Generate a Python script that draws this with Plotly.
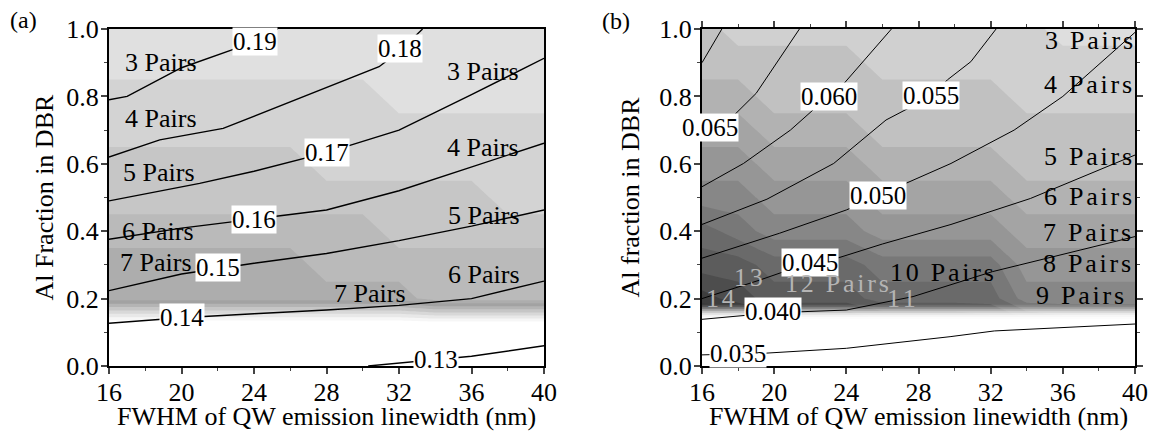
import plotly.graph_objects as go

FONT = "Liberation Serif, Times New Roman, Times, serif"
W, H = 1166, 438

# ---------------- data: pair-count grids (background) ----------------
GRID_X = [16, 18, 20, 22, 24, 26, 28, 30, 32, 34, 36, 38, 40]

A_GRID_Y = [0.0, 0.1, 0.2, 0.3, 0.4, 0.5, 0.6, 0.7, 0.8, 0.9, 1.0]
A_PAIRS = [
    [25, 25, 25, 25, 25, 25, 25, 25, 25, 25, 25, 25, 25],
    [17, 17, 17, 17, 17, 17, 17, 17, 17, 17, 17, 17, 17],
    [7, 7, 7, 7, 7, 7, 7, 7, 7, 6, 6, 6, 6],
    [7, 7, 7, 7, 7, 7, 6, 6, 6, 6, 6, 6, 6],
    [6, 6, 6, 6, 6, 6, 6, 6, 5, 5, 5, 5, 5],
    [5, 5, 5, 5, 5, 5, 5, 5, 5, 5, 5, 4, 4],
    [5, 5, 5, 5, 5, 5, 4, 4, 4, 4, 4, 4, 4],
    [4, 4, 4, 4, 4, 4, 4, 4, 4, 4, 4, 4, 4],
    [4, 4, 4, 4, 4, 4, 4, 4, 3, 3, 3, 3, 3],
    [3, 3, 3, 3, 3, 3, 3, 3, 3, 3, 3, 3, 3],
    [3, 3, 3, 3, 3, 3, 3, 3, 3, 3, 3, 3, 3],
]

B_GRID_Y = [0.0, 0.1, 0.2, 0.3, 0.4, 0.5, 0.6, 0.7, 0.8, 0.9, 1.0]
B_PAIRS = [
    [18, 17, 16, 16, 16, 15, 15, 15, 14, 13, 12, 12, 12],
    [18, 17, 16, 16, 16, 15, 15, 15, 14, 13, 12, 12, 12],
    [14, 13, 12, 12, 12, 11, 11, 11, 11, 9, 9, 9, 9],
    [12, 12, 11, 11, 11, 10, 10, 10, 10, 8, 8, 8, 8],
    [11, 10, 9, 9, 9, 8, 8, 8, 8, 7, 7, 7, 7],
    [9, 9, 8, 8, 8, 7, 7, 7, 7, 6, 6, 6, 6],
    [8, 8, 7, 7, 7, 6, 6, 6, 6, 5, 5, 5, 5],
    [7, 7, 6, 6, 6, 5, 5, 5, 5, 5, 5, 5, 5],
    [6, 6, 5, 5, 5, 5, 5, 5, 5, 4, 4, 4, 4],
    [5, 5, 5, 5, 5, 4, 4, 4, 4, 4, 4, 4, 4],
    [5, 4, 4, 4, 4, 4, 4, 4, 4, 4, 3, 3, 3],
]
# white fade (0 = none, >=1 = fully white) below the pair region in panel (b)
B_FADE_X = [16, 40]
B_FADE_Y = [0.0, 0.1, 0.185]
B_FADE = [[1.42, 1.42], [1.42, 1.42], [0.0, 0.0]]

# ---------------- data: contour lines, panel (a) ----------------
A019_X = [16, 17, 20, 22.9, 24, 25.3]
A019_Y = [0.79, 0.80, 0.885, 0.94, 0.964, 1.0]
A018_X = [16, 18.8, 22.3, 28.4, 30.9, 32.05, 33.3]
A018_Y = [0.62, 0.671, 0.705, 0.834, 0.888, 0.935, 1.0]
A017_X = [16, 21, 24, 28, 32, 36, 40]
A017_Y = [0.49, 0.542, 0.578, 0.633, 0.70, 0.805, 0.913]
A016_X = [16, 20, 24, 28, 32, 36, 40]
A016_Y = [0.376, 0.409, 0.436, 0.463, 0.52, 0.59, 0.661]
A015_X = [16, 20, 24, 28, 32, 36, 40]
A015_Y = [0.2235, 0.273, 0.305, 0.334, 0.372, 0.415, 0.463]
A014_X = [16, 20, 24, 28, 32, 36, 40]
A014_Y = [0.127, 0.143, 0.155, 0.166, 0.18, 0.2, 0.252]
A013_X = [30.3, 32, 34.05, 36, 40]
A013_Y = [0.0, 0.008, 0.018, 0.029, 0.06]

A_LABEL_TEXT = ["0.19", "0.18", "0.17", "0.16", "0.15", "0.14", "0.13"]
A_LABEL_X = [24.05, 32.05, 28.0, 24.0, 22.0, 20.0, 34.05]
A_LABEL_Y = [0.964, 0.943, 0.633, 0.436, 0.292, 0.144, 0.018]

A_PAIR_TEXT = ["3 Pairs", "4 Pairs", "5 Pairs", "6 Pairs", "7 Pairs",
               "7 Pairs", "3 Pairs", "4 Pairs", "5 Pairs", "6 Pairs"]
A_PAIR_X = [18.86, 18.86, 18.76, 18.68, 18.58, 30.4, 36.65, 36.65, 36.7, 36.7]
A_PAIR_Y = [0.90, 0.733, 0.574, 0.399, 0.307, 0.214, 0.873, 0.648, 0.446, 0.273]

# ---------------- data: contour lines, panel (b) ----------------
B070_X = [16, 17.1]
B070_Y = [0.9, 1.0]
B065_X = [16, 17.7, 19.0, 20.1, 21.4]
B065_Y = [0.69, 0.74, 0.809, 0.898, 1.0]
B060_X = [16, 18.3, 20.9, 23.0, 23.8, 26.5]
B060_Y = [0.532, 0.601, 0.70, 0.80, 0.834, 1.0]
B055_X = [16, 19.6, 23.3, 26.2, 28.7, 29.6, 30.9, 32.3]
B055_Y = [0.42, 0.495, 0.601, 0.73, 0.80, 0.849, 0.903, 1.0]
B050_X = [16, 20.3, 24, 25.8, 27.3, 29.8, 33.3, 36, 40]
B050_Y = [0.32, 0.394, 0.463, 0.505, 0.542, 0.601, 0.70, 0.80, 0.99]
B045_X = [16, 19.2, 22, 23.5, 26, 29.8, 34.2, 40]
B045_Y = [0.2, 0.255, 0.307, 0.32, 0.362, 0.42, 0.497, 0.626]
B040_X = [16, 20, 24, 27.7, 32.1, 40]
B040_Y = [0.1385, 0.158, 0.166, 0.206, 0.28, 0.384]
B035_X = [16, 19.5, 24, 29.75, 32.2, 40]
B035_Y = [0.033, 0.038, 0.0525, 0.087, 0.104, 0.1246]

B_LABEL_TEXT = ["0.065", "0.060", "0.055", "0.050", "0.045", "0.040", "0.035"]
B_LABEL_X = [16.44, 23.05, 28.67, 25.77, 21.99, 19.95, 17.97]
B_LABEL_Y = [0.708, 0.799, 0.802, 0.505, 0.307, 0.161, 0.036]

B_PAIR_TEXT = ["3 Pairs", "4 Pairs", "5 Pairs", "6 Pairs", "7 Pairs",
               "8 Pairs", "9 Pairs", "10 Pairs"]
B_PAIR_X = [37.45, 37.37, 37.4, 37.37, 37.35, 37.35, 36.95, 29.33]
B_PAIR_Y = [0.965, 0.834, 0.621, 0.502, 0.396, 0.303, 0.208, 0.277]
B_GRAY_TEXT = ["12 Pairs", "11", "13", "14"]
B_GRAY_X = [23.51, 27.07, 18.6, 17.0]
B_GRAY_Y = [0.245, 0.199, 0.263, 0.199]

X_TICKS = [16, 20, 24, 28, 32, 36, 40]
Y_TICKS = [0.0, 0.2, 0.4, 0.6, 0.8, 1.0]

# ---------------- styles ----------------
def gray_a(v):
    table = {3: 224, 4: 211, 5: 198, 6: 186, 7: 173, 8: 162,
             9: 180, 10: 198, 11: 216, 12: 232, 13: 246}
    return table.get(v, 255)


def gray_b(v):
    if v <= 14:
        return int(round(222 - (v - 3) * 14.5))
    return 58


def make_scale(fn, vmin, vmax):
    out = []
    for v in range(vmin, vmax + 1):
        g = fn(v)
        out.append([(v - vmin) / (vmax - vmin), f"rgb({g},{g},{g})"])
    return out


A_END = 25  # last integer band in panel (a)
B_END = 20
scale_a = make_scale(gray_a, 3, 3 + (A_END - 2))
scale_b = make_scale(gray_b, 3, 3 + (B_END - 2))

fig = go.Figure()

fig.add_trace(go.Contour(
    x=GRID_X, y=A_GRID_Y, z=A_PAIRS, xaxis="x", yaxis="y",
    autocontour=False,
    contours=dict(start=3.5, end=A_END + 0.5, size=1, coloring="fill", showlines=False),
    colorscale=scale_a, showscale=False, line=dict(width=0, smoothing=0),
    hoverinfo="skip"))

fig.add_trace(go.Contour(
    x=GRID_X, y=B_GRID_Y, z=B_PAIRS, xaxis="x2", yaxis="y2",
    autocontour=False,
    contours=dict(start=3.5, end=B_END + 0.5, size=1, coloring="fill", showlines=False),
    colorscale=scale_b, showscale=False, line=dict(width=0, smoothing=0),
    hoverinfo="skip"))

fig.add_trace(go.Contour(
    x=B_FADE_X, y=B_FADE_Y, z=B_FADE, xaxis="x2", yaxis="y2",
    autocontour=False,
    contours=dict(start=0.05, end=0.95, size=0.1, coloring="fill", showlines=False),
    colorscale=[[0, "rgba(255,255,255,0)"], [1, "rgba(255,255,255,1)"]],
    showscale=False, line=dict(width=0, smoothing=0), hoverinfo="skip"))

A_LINES = [(A019_X, A019_Y), (A018_X, A018_Y), (A017_X, A017_Y), (A016_X, A016_Y),
           (A015_X, A015_Y), (A014_X, A014_Y), (A013_X, A013_Y)]
B_LINES = [(B070_X, B070_Y), (B065_X, B065_Y), (B060_X, B060_Y), (B055_X, B055_Y),
           (B050_X, B050_Y), (B045_X, B045_Y), (B040_X, B040_Y), (B035_X, B035_Y)]

for xs, ys in A_LINES:
    fig.add_trace(go.Scatter(x=xs, y=ys, mode="lines", xaxis="x", yaxis="y",
                             line=dict(color="black", width=1.4), hoverinfo="skip",
                             showlegend=False))
for xs, ys in B_LINES:
    fig.add_trace(go.Scatter(x=xs, y=ys, mode="lines", xaxis="x2", yaxis="y2",
                             line=dict(color="black", width=1.0), hoverinfo="skip",
                             showlegend=False))

GAP = '<span style="font-size:11px">\u00a0</span>'


def spaced(s):
    return GAP.join(list(s))


def note(text, x, y, xref, yref, size, color="black", bg=None, angle=0):
    d = dict(text=text, x=x, y=y, xref=xref, yref=yref, showarrow=False,
             xanchor="center", yanchor="middle", textangle=angle,
             font=dict(family=FONT, size=size, color=color))
    if bg:
        d.update(bgcolor=bg, borderpad=0)
    return d


ann = []
for t, x, y in zip(A_LABEL_TEXT, A_LABEL_X, A_LABEL_Y):
    ann.append(note(t, x, y, "x", "y", 25, bg="white"))
for t, x, y in zip(A_PAIR_TEXT, A_PAIR_X, A_PAIR_Y):
    ann.append(note(t, x, y, "x", "y", 26))
for t, x, y in zip(B_LABEL_TEXT, B_LABEL_X, B_LABEL_Y):
    ann.append(note(t, x, y, "x2", "y2", 25, bg="white"))
for t, x, y in zip(B_PAIR_TEXT, B_PAIR_X, B_PAIR_Y):
    ann.append(note(spaced(t), x, y, "x2", "y2", 26))
for t, x, y in zip(B_GRAY_TEXT, B_GRAY_X, B_GRAY_Y):
    ann.append(note(spaced(t), x, y, "x2", "y2", 26, color="#b4b4b4"))

# panel letters and axis titles (pixel positions converted to paper fractions)
ann += [
    note("(a)", 23 / W, 1 - 20 / H, "paper", "paper", 24),
    note("(b)", 616 / W, 1 - 21 / H, "paper", "paper", 24),
    note("Al Fraction in DBR", 44 / W, 1 - 197.5 / H, "paper", "paper", 26, angle=-90),
    note("Al fraction in DBR", 630 / W, 1 - 197.5 / H, "paper", "paper", 26, angle=-90),
    note("FWHM of QW emission linewidth (nm)", 326.5 / W, 1 - 416 / H, "paper", "paper", 26),
    note("FWHM of QW emission linewidth (nm)", 918.5 / W, 1 - 416 / H, "paper", "paper", 26),
]


def xaxis(dom, mirror, anchor):
    return dict(domain=dom, range=[16, 40], tickvals=X_TICKS, ticks="outside", ticklen=6,
                tickwidth=1.5, showline=True, linewidth=2, linecolor="black", mirror=mirror,
                showgrid=False, zeroline=False, automargin=False, anchor=anchor,
                ticklabelstandoff=-4,
                tickfont=dict(family=FONT, size=26, color="black"),
                minor=dict(ticks="outside", ticklen=3, tickwidth=1.2, dtick=2, tick0=16,
                           showgrid=False))


def yaxis(dom, anchor, mirror):
    return dict(domain=dom, range=[0, 1], tickvals=Y_TICKS, tickformat=".1f", ticks="outside",
                ticklen=6, tickwidth=1.5, showline=True, linewidth=2, linecolor="black",
                mirror=mirror, showgrid=False, zeroline=False, anchor=anchor,
                automargin=False, ticklabelstandoff=-3,
                tickfont=dict(family=FONT, size=26, color="black"),
                minor=dict(ticks="outside", ticklen=3, tickwidth=1.2, dtick=0.1, tick0=0,
                           showgrid=False))


ydom = [(H - 366) / H, (H - 29) / H]
fig.update_layout(
    width=W, height=H, margin=dict(l=0, r=0, t=0, b=0, autoexpand=False),
    paper_bgcolor="white", plot_bgcolor="white", showlegend=False,
    xaxis=xaxis([109 / W, 544 / W], True, "y"),
    yaxis=yaxis(ydom, "x", True),
    xaxis2=xaxis([702 / W, 1135 / W], "ticks", "y2"),
    yaxis2=yaxis(ydom, "x2", "ticks"),
    annotations=ann,
)

fig.write_html("out.html",
               config={"displayModeBar": False},
               post_script="document.body.style.margin='0px';"
                           "document.body.style.overflow='hidden';")
